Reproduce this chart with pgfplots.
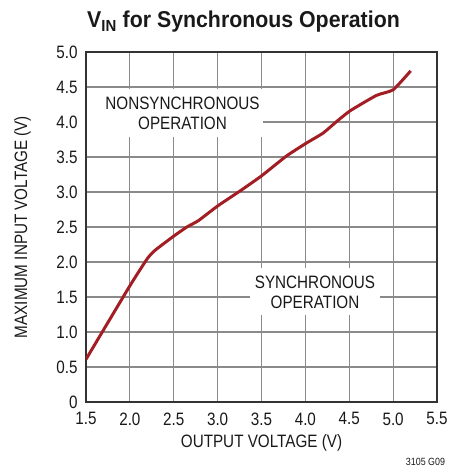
\documentclass[border=0pt]{standalone}
\usepackage{fontspec}
\setmainfont{Liberation Sans}[FakeStretch=0.85]
\newfontfamily\titlefont{Liberation Sans}[FakeStretch=0.93]
\usepackage{pgfplots}
\pgfplotsset{compat=1.18}
\definecolor{curve}{HTML}{A21E24}
\definecolor{gridc}{HTML}{8A8A8A}
\definecolor{framec}{HTML}{333333}
\begin{document}
\begin{tikzpicture}
\useasboundingbox (-86bp,-65bp) rectangle (367bp,402bp);
\begin{axis}[
  at={(0,0)}, anchor=south west,
  scale only axis, width=351bp, height=350bp,
  xmin=1.5, xmax=5.5, ymin=0, ymax=5,
  xtick={1.5,2.0,...,5.5}, ytick={0,0.5,...,5.0},
  xticklabels={1.5,2.0,2.5,3.0,3.5,4.0,4.5,5.0,5.5},
  yticklabels={0,0.5,1.0,1.5,2.0,2.5,3.0,3.5,4.0,4.5,5.0},
  /pgf/number format/assume math mode=true,
  ticklabel style={font=\fontsize{18}{20}\selectfont, text=black!90},
  xticklabel style={yshift=-7bp},
  yticklabel style={xshift=-5bp},
  major tick length=0pt,
  grid=major,
  major grid style={gridc, line width=1.2bp},
  axis line style={framec, line width=1.6bp},
  every axis x label/.style={at={(axis description cs:0.5,-0.117)}, anchor=center},
  every axis y label/.style={at={(axis description cs:-0.181,0.5)}, anchor=center, rotate=90},
  label style={font=\fontsize{18}{20}\selectfont, text=black!90},
  xlabel={OUTPUT VOLTAGE (V)},
  ylabel={MAXIMUM INPUT VOLTAGE (V)},
]
\fill[white] (axis cs:1.515,3.786) rectangle (axis cs:3.517,4.471);
\fill[white] (axis cs:3.369,1.243) rectangle (axis cs:4.85,1.914);
\node[align=center, font=\fontsize{18}{20}\selectfont, text=black!90] at (axis cs:2.60,4.13) {NONSYNCHRONOUS\\OPERATION};
\node[align=center, font=\fontsize{18}{20}\selectfont, text=black!90] at (axis cs:4.11,1.564) {SYNCHRONOUS\\OPERATION};
\addplot[curve, line width=3bp, smooth, tension=0.3] coordinates {
(1.5,0.61) (2.0,1.66) (2.2,2.05) (2.29,2.17) (2.5,2.37) (2.65,2.50) (2.78,2.59)
(3.0,2.80) (3.25,3.01) (3.5,3.23) (3.78,3.51) (4.0,3.69) (4.2,3.84) (4.35,4.00)
(4.51,4.16) (4.81,4.38) (5.0,4.46) (5.2,4.73)
};
\end{axis}
\node[anchor=base west, font=\titlefont\bfseries\fontsize{23}{26}\selectfont, text=black!90, inner sep=0pt] at (1bp,374bp) {V\textsubscript{IN} for Synchronous Operation};
\node[font=\fontsize{10.5}{12}\selectfont, text=black!90] at (339.5bp,-60bp) {3105 G09};
\end{tikzpicture}
\end{document}
